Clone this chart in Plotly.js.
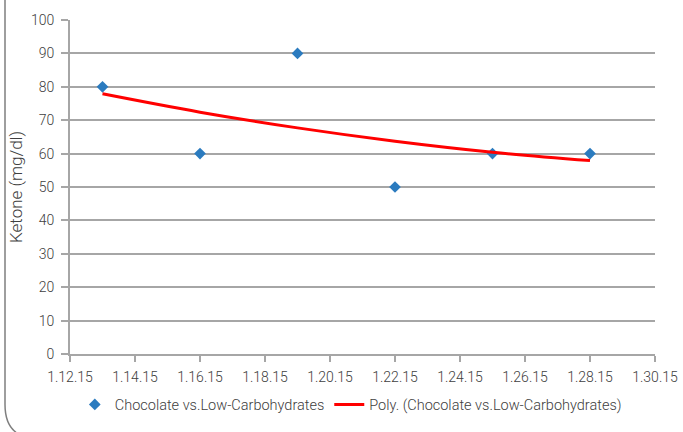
<!DOCTYPE html>
<html>
<head>
<meta charset="utf-8">
<script src="https://cdn.plot.ly/plotly-3.0.1.min.js"></script>
<style>html,body{margin:0;padding:0;background:#fff;}#chart{width:683px;height:432px;}</style>
</head>
<body>
<div id="chart"></div>
<script>
const dates = ['2015-01-13','2015-01-16','2015-01-19','2015-01-22','2015-01-25','2015-01-28'];
const ketone = [80, 60, 90, 50, 60, 60];
const trendValues = [77.9, 72.4, 67.7, 63.7, 60.4, 57.9];
const seriesName = 'Chocolate vs.Low-Carbohydrates';
const trendName = 'Poly. (Chocolate vs.Low-Carbohydrates)';
const yTitle = 'Ketone (mg/dl)';

const W = 683, H = 432, L = 70, R = 28, T = 20, B = 75;
const pw = W - L - R, ph = H - T - B;
const px = x => (x - L) / pw;
const py = y => (H - B - y) / ph;

const fam = 'Roboto, Open Sans, sans-serif';
const font = {family: fam, size: 14, color: '#404040', weight: 300};

const data = [
  {x: dates, y: ketone, type: 'scatter', mode: 'markers', name: seriesName,
   marker: {symbol: 'diamond', size: 9, color: '#2b7bbf'}},
  {x: dates, y: trendValues, type: 'scatter', mode: 'lines', name: trendName,
   line: {color: '#ff0000', width: 3, shape: 'spline'}}
];

const borderPath = `M ${px(5)} ${py(-5)} L ${px(5)} ${py(408)} Q ${px(5)} ${py(428)} ${px(16)} ${py(436)}`;

const layout = {
  width: W, height: H,
  margin: {l: L, r: R, t: T, b: B},
  paper_bgcolor: '#fff', plot_bgcolor: '#fff',
  font: font,
  showlegend: true,
  legend: {orientation: 'h', x: 0.48, xanchor: 'center', y: py(408), yanchor: 'middle',
           font: {family: fam, size: 14.5, color: '#404040', weight: 300}, tracegroupgap: 0},
  xaxis: {
    type: 'date',
    range: ['2015-01-12', '2015-01-30'],
    dtick: 172800000, tick0: '2015-01-12',
    tickformat: '%-m.%d.%y',
    showgrid: false, zeroline: false,
    showline: true, linecolor: '#a6a6a6', linewidth: 2,
    ticks: 'outside', ticklen: 6, tickcolor: '#a6a6a6', tickwidth: 2,
    ticklabelstandoff: 3,
    tickfont: {family: fam, size: 14, color: '#404040', weight: 300}
  },
  yaxis: {
    range: [0, 100], dtick: 10,
    showgrid: true, gridcolor: '#a6a6a6', gridwidth: 2,
    zeroline: false,
    showline: true, linecolor: '#a6a6a6', linewidth: 2,
    ticks: 'outside', ticklen: 7, tickcolor: '#a6a6a6', tickwidth: 2,
    ticklabelstandoff: 4,
    tickfont: {family: fam, size: 14, color: '#404040', weight: 300},
    title: {text: yTitle, font: {family: fam, size: 17, color: '#404040', weight: 300}, standoff: 4}
  },
  shapes: [
    {type: 'path', xref: 'paper', yref: 'paper', path: borderPath,
     line: {color: '#7f7f7f', width: 1.5}, layer: 'above'}
  ]
};

Plotly.newPlot('chart', data, layout, {displayModeBar: false, staticPlot: true});
</script>
</body>
</html>
